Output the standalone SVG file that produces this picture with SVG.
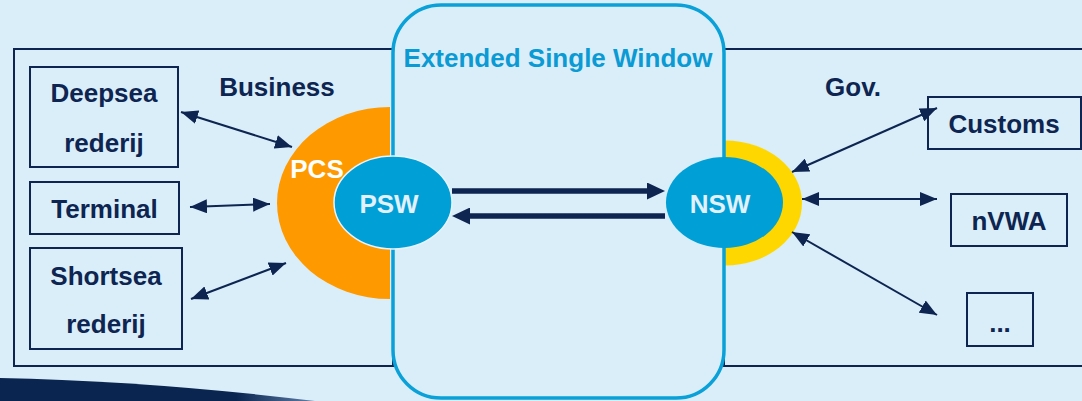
<svg xmlns="http://www.w3.org/2000/svg" width="1082" height="401" viewBox="0 0 1082 401">
<style>
  .box { fill: none; stroke: #0D2550; stroke-width: 2; }
  .lbl { font-family: "Liberation Sans", Arial, sans-serif; font-weight: bold; font-size: 26px; fill: #0D2550; text-anchor: middle; }
  .wlbl { font-family: "Liberation Sans", Arial, sans-serif; font-weight: bold; font-size: 26px; fill: #E2F1FB; text-anchor: middle; }
  .thin { stroke: #0D2550; stroke-width: 2; fill: none; marker-start: url(#ah); marker-end: url(#ah); }
  .thick { stroke: #0D2550; stroke-width: 5.5; fill: none; marker-end: url(#ahBig); }
</style>
<defs>
  <marker id="ah" markerUnits="userSpaceOnUse" markerWidth="17" markerHeight="14" refX="17" refY="7" orient="auto-start-reverse">
    <path d="M0,0 L17,7 L0,14 z" fill="#0D2550"/>
  </marker>
  <marker id="ahBig" markerUnits="userSpaceOnUse" markerWidth="18" markerHeight="17" refX="8" refY="8.5" orient="auto">
    <path d="M0,0 L18,8.5 L0,17 z" fill="#0D2550"/>
  </marker>
  <linearGradient id="sw" x1="0" y1="0" x2="1" y2="0">
    <stop offset="0" stop-color="#0A2550"/>
    <stop offset="0.75" stop-color="#0A2550"/>
    <stop offset="1" stop-color="#5F7FA8"/>
  </linearGradient>
</defs>
<rect x="0" y="0" width="1082" height="401" fill="#DAEEF9"/>
<path d="M0,378 Q150,381 315,401 L0,401 Z" fill="url(#sw)"/>

<g id="business-area">
  <rect class="box" x="14" y="49" width="379" height="317"/>
  <text class="lbl" x="277" y="96">Business</text>
</g>
<g id="gov-area">
  <rect class="box" x="724" y="49" width="370" height="317"/>
  <text class="lbl" x="853" y="96">Gov.</text>
</g>

<g id="pcs">
  <path d="M390,107 A113,96 0 0 0 390,299 Z" fill="#FF9900"/>
  <text class="lbl" x="317" y="178" style="fill:#FFFFFF">PCS</text>
</g>
<g id="nsw-ring">
  <path d="M725,140.5 A77,62.5 0 0 1 725,265.5 Z" fill="#FFD700"/>
</g>

<g id="esw">
  <rect x="393" y="5" width="331" height="393" rx="48" ry="48" fill="none" stroke="#0AA0D8" stroke-width="3.5"/>
  <text class="lbl" x="558" y="67" style="fill:#0A9AD4">Extended Single Window</text>
</g>

<g id="psw">
  <ellipse cx="393" cy="202.5" rx="59" ry="46.5" fill="#009FD6" stroke="#E6F3FB" stroke-width="1.5"/>
  <text class="wlbl" x="389" y="213">PSW</text>
</g>
<g id="nsw">
  <ellipse cx="724.5" cy="202.5" rx="58.5" ry="45.5" fill="#009FD6"/>
  <text class="wlbl" x="720" y="213">NSW</text>
</g>

<g id="deepsea">
  <rect class="box" x="30" y="67" width="148" height="100"/>
  <text class="lbl" x="104" y="102">Deepsea</text>
  <text class="lbl" x="104" y="152">rederij</text>
</g>
<g id="terminal">
  <rect class="box" x="30" y="182" width="149" height="52"/>
  <text class="lbl" x="104.5" y="218">Terminal</text>
</g>
<g id="shortsea">
  <rect class="box" x="30" y="248" width="152" height="101"/>
  <text class="lbl" x="106" y="285">Shortsea</text>
  <text class="lbl" x="106" y="333">rederij</text>
</g>
<g id="customs">
  <rect class="box" x="928" y="97" width="153" height="52"/>
  <text class="lbl" x="1004" y="133">Customs</text>
</g>
<g id="nvwa">
  <rect class="box" x="951" y="194" width="116" height="52"/>
  <text class="lbl" x="1009" y="230">nVWA</text>
</g>
<g id="other">
  <rect class="box" x="967" y="293" width="66" height="53"/>
  <text class="lbl" x="1000" y="332">...</text>
</g>

<g id="connectors">
  <line class="thin" x1="181" y1="112" x2="292" y2="147"/>
  <line class="thin" x1="190" y1="207" x2="270" y2="204"/>
  <line class="thin" x1="191" y1="299" x2="286" y2="263"/>
  <line class="thin" x1="792" y1="172" x2="937" y2="108"/>
  <line class="thin" x1="802" y1="199" x2="937" y2="199"/>
  <line class="thin" x1="792" y1="232" x2="937" y2="315"/>
  <line class="thick" x1="452" y1="191" x2="655" y2="191"/>
  <line class="thick" x1="665" y1="216" x2="462" y2="216"/>
</g>
</svg>
